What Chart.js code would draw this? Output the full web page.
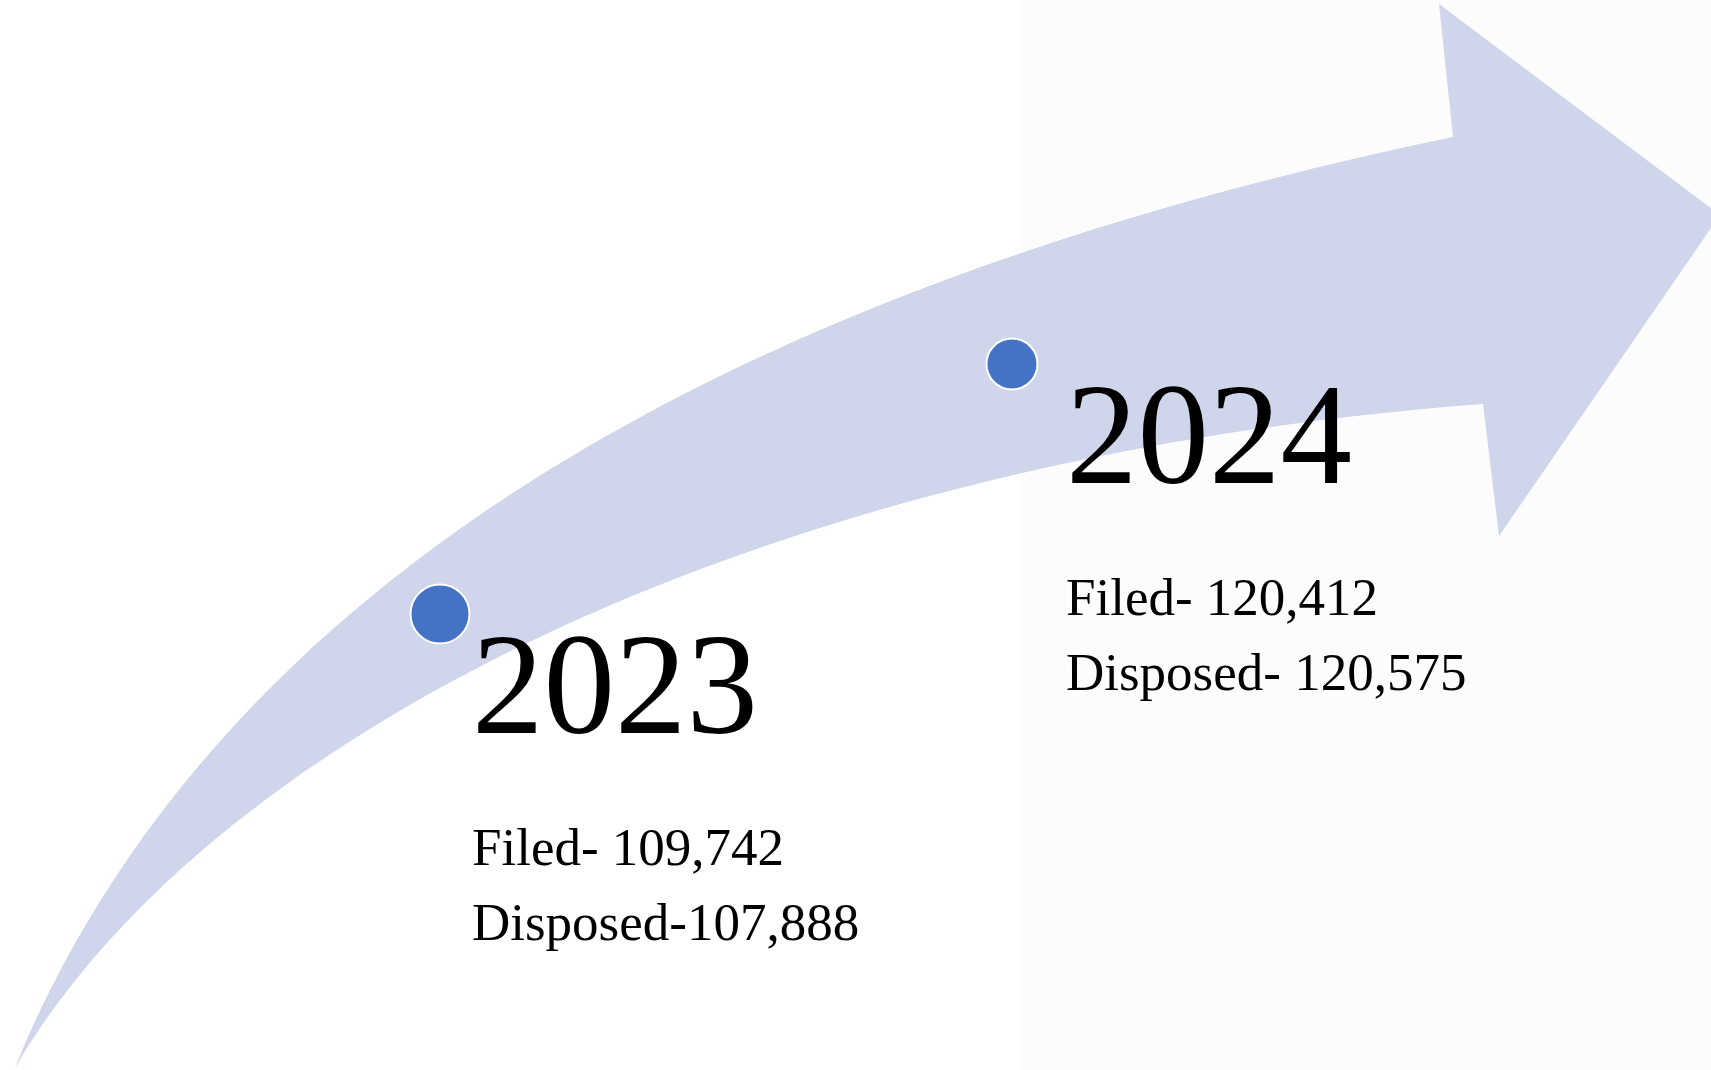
<!DOCTYPE html>
<html>
<head>
<meta charset="utf-8">
<script src="https://cdn.jsdelivr.net/npm/chart.js@4.4.1/dist/chart.umd.min.js"></script>
<style>
  html, body { margin: 0; padding: 0; background: #ffffff; }
  #wrap { width: 1711px; height: 1070px; position: relative; }
</style>
</head>
<body>
<div id="wrap"><canvas id="timeline"></canvas></div>
<script>
// Timeline data
const years = [2023, 2024];
const filed = [109742, 120412];
const disposed = [107888, 120575];
const filedLabels = ['Filed- 109,742', 'Filed- 120,412'];
const disposedLabels = ['Disposed-107,888', 'Disposed- 120,575'];

const ARROW = '#cfd5ea';
const DOT = '#4472c4';
const SERIF = '"Liberation Serif", "Times New Roman", serif';

// layout of the text blocks next to each dot (px, relative to the dot)
const textDx = [32, 54];

// faint backdrop + curved arrow drawn behind the dots (reference frame 1711 x 1070)
const arrowPlugin = {
  id: 'arrow',
  beforeDatasetsDraw(chart) {
    const ctx = chart.ctx;
    const sx = chart.width / 1711, sy = chart.height / 1070;
    const p = (x, y) => [x * sx, y * sy];
    ctx.save();
    ctx.fillStyle = '#fcfcfc';
    ctx.fillRect(1021 * sx, 0, chart.width - 1021 * sx, chart.height);

    ctx.beginPath();
    ctx.moveTo(...p(15, 1068));
    ctx.bezierCurveTo(...p(243, 513), ...p(866, 259), ...p(1453, 137));
    ctx.lineTo(...p(1439, 4));
    ctx.lineTo(...p(1720, 215));
    ctx.lineTo(...p(1499, 536));
    ctx.lineTo(...p(1483, 404));
    ctx.bezierCurveTo(...p(785, 456), ...p(218, 723), ...p(15, 1068));
    ctx.closePath();
    ctx.fillStyle = ARROW;
    ctx.fill();
    ctx.restore();
  },
  afterDatasetsDraw(chart) {
    const ctx = chart.ctx;
    const meta = chart.getDatasetMeta(0);
    ctx.save();
    ctx.fillStyle = '#000000';
    ctx.textBaseline = 'alphabetic';
    ctx.textAlign = 'left';
    meta.data.forEach((pt, i) => {
      const x = pt.x + textDx[i];
      ctx.font = '143px ' + SERIF;
      ctx.fillText(String(years[i]), x, pt.y + 119);
      ctx.font = '53px ' + SERIF;
      ctx.fillText(filedLabels[i], x, pt.y + 251);
      ctx.fillText(disposedLabels[i], x, pt.y + 326);
    });
    ctx.restore();
  }
};

new Chart(document.getElementById('timeline'), {
  type: 'scatter',
  data: {
    datasets: [{
      label: 'Filed',
      data: years.map((y, i) => ({ x: y, y: filed[i] })),
      backgroundColor: DOT,
      borderColor: '#ffffff',
      borderWidth: 2,
      pointRadius: [29.5, 25.5],
      pointHoverRadius: [29.5, 25.5],
    }],
  },
  options: {
    responsive: true,
    maintainAspectRatio: false,
    animation: false,
    layout: { padding: 0, autoPadding: false },
    scales: {
      x: { type: 'linear', display: false, min: 2022.2308, max: 2025.2221 },
      y: { type: 'linear', display: false, min: 90280, max: 135948 },
    },
    plugins: {
      legend: { display: false },
      tooltip: { enabled: false },
    },
  },
  plugins: [arrowPlugin],
});
</script>
</body>
</html>
